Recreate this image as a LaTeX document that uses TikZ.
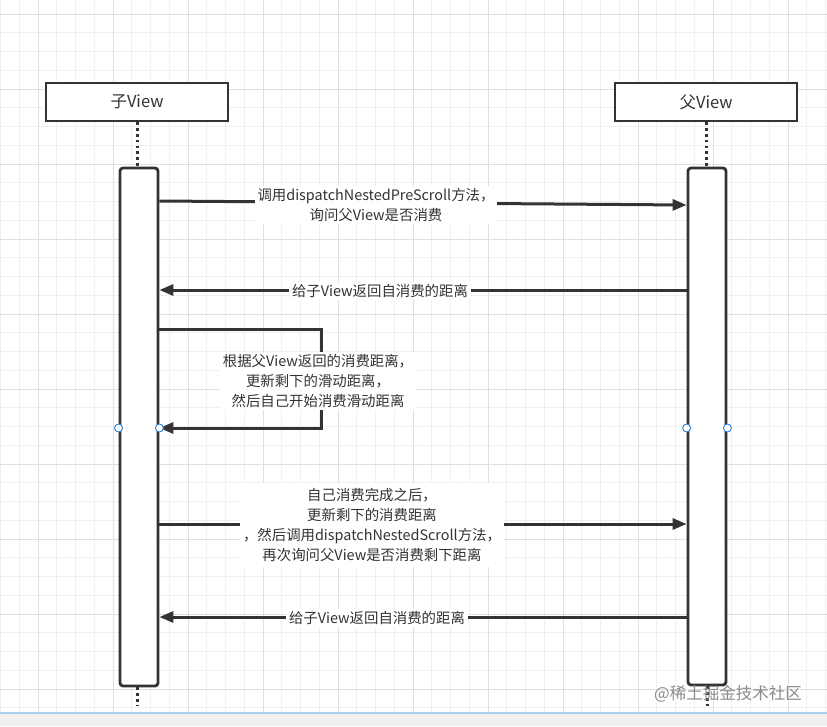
\documentclass[tikz,border=0pt]{standalone}
\usepackage{fontspec}
\setmainfont{Noto Sans CJK SC}
\usetikzlibrary{arrows.meta}
\definecolor{ink}{HTML}{333333}
\definecolor{gridminor}{HTML}{F0F0F0}
\definecolor{gridmajor}{HTML}{E0E0E0}
\definecolor{handleblue}{HTML}{3A86D6}
\definecolor{bottombar}{HTML}{F0F0F0}
\definecolor{bottomline}{HTML}{A9CFEF}
\tikzset{
  header/.style={draw=ink, line width=2.6pt, fill=white, minimum width=182pt, minimum height=38pt, inner sep=0pt, font=\fontsize{16.5}{18}\selectfont, text=ink},
  actbar/.style={draw=ink, line width=2.8pt, fill=white, rounded corners=3pt, minimum width=38pt, inner sep=0pt},
  lifeline/.style={draw=ink, line width=3pt, dash pattern=on 2.6pt off 3.2pt},
  msg/.style={draw=ink, line width=3pt, -{Triangle[length=14pt,width=11pt]}},
  msglabel/.style={fill=white, inner xsep=3pt, inner ysep=2pt, align=center, text=ink, font=\fontsize{14.4}{20}\selectfont},
  handle/.style={circle, draw=handleblue, fill=white, line width=1pt, minimum size=8pt, inner sep=0pt},
  watermark/.style={text=black!45, font=\fontsize{16.5}{18}\selectfont}
}
\begin{document}
\begin{tikzpicture}[x=1pt, y=-1pt]
\useasboundingbox (0,0) rectangle (827,726);
% background grid
\fill[white] (0,0) rectangle (827,713);
\foreach \k in {0,...,44} {\draw[gridminor, line width=0.9pt] ({0.5+18.75*\k},0) -- ({0.5+18.75*\k},713);}
\foreach \k in {0,...,37} {\draw[gridminor, line width=0.9pt] (0,{14+18.75*\k}) -- (827,{14+18.75*\k});}
\foreach \k in {0,...,10} {\draw[gridmajor, line width=0.9pt] ({38+75*\k},0) -- ({38+75*\k},713);}
\foreach \k in {0,...,9} {\draw[gridmajor, line width=0.9pt] (0,{14+75*\k}) -- (827,{14+75*\k});}
\fill[bottombar] (0,713) rectangle (827,726);
\draw[bottomline, line width=1.5pt] (0,713) -- (827,713);

% headers
\node[header] (c) at (137,102) {子View};
\node[header] (p) at (706,102) {父View};

% activation bars
\node[actbar, minimum height=518pt] (cb) at (139,427) {};
\node[actbar, minimum height=517pt] (pb) at (707,426.5) {};

% lifelines
\coordinate (cend) at (137,706);
\coordinate (pend) at (707,706);
\draw[lifeline] (c.south) -- (c.south |- cb.north);
\draw[lifeline] (p.south) -- (p.south |- pb.north);
\draw[lifeline] (cend |- cb.south) -- (cend);
\draw[lifeline] (pend |- pb.south) -- (pend);

% message rows
\coordinate (r1a) at (0,201);
\coordinate (r1b) at (0,205);
\coordinate (r2) at (0,290);
\coordinate (s1) at (321,329);
\coordinate (r3) at (0,428);
\coordinate (r4) at (0,524);
\coordinate (r5) at (0,617);

\draw[msg] (cb.east |- r1a) -- (pb.west |- r1b);
\node[msglabel] (l1) at (376,205) {调用dispatchNestedPreScroll方法，\\询问父View是否消费};

\draw[msg] (pb.west |- r2) -- (cb.east |- r2);
\node[msglabel] (l2) at (380,291) {给子View返回自消费的距离};

\draw[msg] (cb.east |- s1) -- (s1) -- (s1 |- r3) -- (cb.east |- r3);
\node[msglabel] (l3) at (318,381) {根据父View返回的消费距离，\\更新剩下的滑动距离，\\然后自己开始消费滑动距离};

\draw[msg] (cb.east |- r4) -- (pb.west |- r4);
\node[msglabel, inner ysep=5pt] (l4) at (372,525) {自己消费完成之后，\\更新剩下的消费距离\\，然后调用dispatchNestedScroll方法，\\再次询问父View是否消费剩下距离};

\draw[msg] (pb.west |- r5) -- (cb.east |- r5);
\node[msglabel] (l5) at (377,618) {给子View返回自消费的距离};

% selection handles
\node[handle] (h1) at (cb.west |- r3) {};
\node[handle] (h2) at (cb.east |- r3) {};
\node[handle] (h3) at (pb.west |- r3) {};
\node[handle] (h4) at (pb.east |- r3) {};

% watermark
\node[watermark] (wm) at (728,694) {@稀土掘金技术社区};
\end{tikzpicture}
\end{document}
